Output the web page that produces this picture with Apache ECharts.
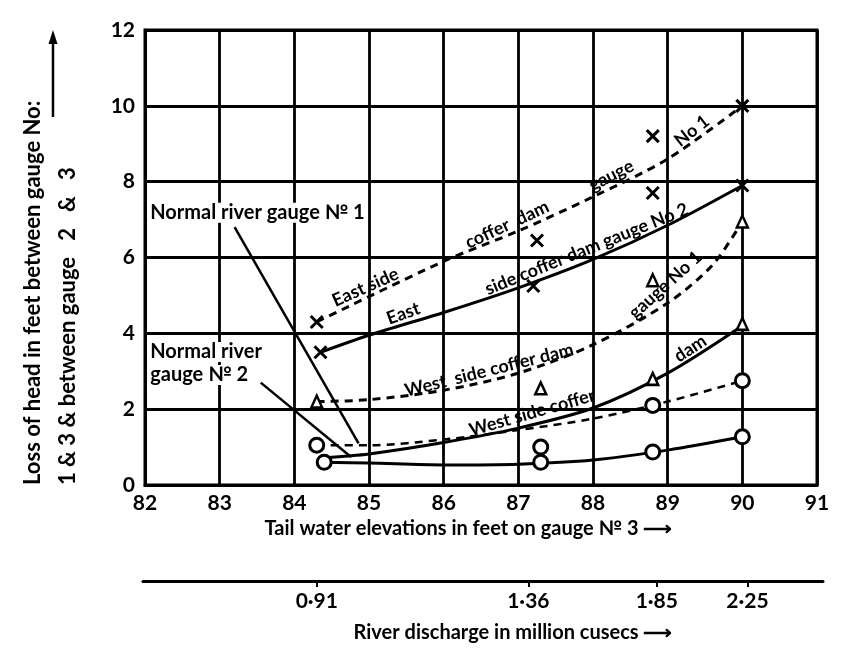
<!DOCTYPE html>
<html>
<head>
<meta charset="utf-8">
<script src="https://cdn.jsdelivr.net/npm/echarts@6/dist/echarts.min.js"></script>
<style>
html,body{margin:0;padding:0;background:#fff;}
#chart{width:842px;height:654px;}
</style>
</head>
<body>
<div id="chart"></div>
<script>
// ---- axes ----
const tailWaterMin = 82, tailWaterMax = 91, tailWaterStep = 1;
const headMin = 0, headMax = 12, headStep = 2;
const dischargeAt = [84.3, 87.1, 88.8, 90.0];
const dischargeLabels = ['0·91', '1·36', '1·85', '2·25'];

// ---- observed points ----
const eastNo1Points = [[84.3, 4.3], [87.25, 6.45], [88.8, 9.2], [90.0, 10.0]];
const eastNo2Points = [[84.35, 3.5], [87.2, 5.25], [88.8, 7.7], [90.0, 7.9]];
const westNo1Points = [[84.3, 2.2], [87.3, 2.55], [88.8, 5.4], [90.0, 6.95]];
const westNo2Points = [[88.8, 2.8], [90.0, 4.25]];
const normalNo1Points = [[84.3, 1.05], [87.3, 1.0], [88.8, 2.1], [90.0, 2.75]];
const normalNo2Points = [[84.4, 0.6], [87.3, 0.6], [88.8, 0.87], [90.0, 1.27]];

// ---- drawn curves ----
const eastNo1Curve = [[84.3, 4.3], [86, 5.9], [87, 6.7], [88, 7.6], [89, 8.6], [90, 10.0]];
const eastNo2Curve = [[84.35, 3.5], [85, 3.95], [86, 4.55], [87, 5.2], [88, 5.95], [89, 6.85], [90, 7.9]];
const westNo1Curve = [[84.3, 2.2], [85, 2.25], [86, 2.5], [87, 2.95], [88, 3.7], [89, 4.8], [89.6, 5.8], [90, 6.95]];
const westNo2Curve = [[84.4, 0.72], [85, 0.82], [86, 1.12], [87, 1.5], [88, 2.03], [89, 2.95], [90, 4.2]];
const normalNo1Curve = [[84.3, 1.05], [85, 1.05], [86, 1.2], [87, 1.45], [88, 1.75], [89, 2.2], [90, 2.75]];
const normalNo2Curve = [[84.4, 0.6], [85, 0.58], [86, 0.53], [87, 0.55], [88, 0.66], [89, 0.92], [90, 1.27]];

// ---- label pointers ----
const normalNo1Pointer = [[83.2, 6.8], [84.86, 1.1]];
const normalNo2Pointer = [[83.55, 2.7], [84.76, 0.74]];

// ---- annotation texts ----
const annotationTexts = ['East side', 'coffer  dam', 'gauge', 'No 1',
  'East', 'side coffer dam gauge No 2',
  'West  side coffer dam', 'gauge No 1',
  'West side coffer', 'dam',
  'Normal river gauge № 1', 'Normal river', 'gauge № 2'];
const annotationAnchors = [[85.0, 5.0], [86.9, 6.65], [88.3, 7.95], [89.4, 9.15],
  [85.5, 4.3], [87.96, 6.0],
  [86.64, 2.8], [89.05, 5.1],
  [87.22, 1.68], [89.37, 3.4],
  [82.07, 7.18], [82.07, 3.51], [82.07, 2.9]];
const annotationAngles = [24, 25, 27, 38, 20, 22, 14, 42, 16, 33, 0, 0, 0];

const FONT = 'Lato';
const BLACK = '#000';

const crossSymbol = 'path://M0 0L10 10M10 0L0 10';

function curve(data, dashed, width) {
  return {
    type: 'line', data: data, smooth: 0.3, showSymbol: false, symbol: 'none',
    xAxisIndex: 0, yAxisIndex: 0, silent: true, z: 3,
    lineStyle: { color: BLACK, width: width || 3, type: dashed ? [8, 6] : 'solid', opacity: 1 }
  };
}
function points(data, kind) {
  const s = { type: 'scatter', data: data, xAxisIndex: 0, yAxisIndex: 0, z: 5, silent: true };
  if (kind === 'x') {
    s.symbol = crossSymbol; s.symbolSize = 12;
    s.itemStyle = { color: 'none', borderColor: BLACK, borderWidth: 3, opacity: 1 };
  } else if (kind === 't') {
    s.symbol = 'triangle'; s.symbolSize = [11, 12];
    s.itemStyle = { color: '#fff', borderColor: BLACK, borderWidth: 2.5, opacity: 1 };
  } else {
    s.symbol = 'circle'; s.symbolSize = 14;
    s.itemStyle = { color: '#fff', borderColor: BLACK, borderWidth: 3, opacity: 1 };
  }
  return s;
}
function pointer(data) {
  return { type: 'line', data: data, showSymbol: false, symbol: 'none', silent: true, z: 2,
    lineStyle: { color: BLACK, width: 2.5 } };
}

const chart = echarts.init(document.getElementById('chart'), null, { renderer: 'canvas' });

const labelFont = { color: BLACK, fontFamily: FONT, fontWeight: 'bold', fontSize: 21 };

const option = {
  backgroundColor: '#fff',
  animation: false,
  grid: [
    { left: 145, top: 30, width: 672, height: 455, show: true, borderColor: BLACK, borderWidth: 3, backgroundColor: 'transparent' },
    { left: 143, top: 580, width: 680, height: 1 }
  ],
  xAxis: [
    {
      type: 'value', gridIndex: 0, min: tailWaterMin, max: tailWaterMax, interval: tailWaterStep,
      axisLine: { show: true, lineStyle: { color: BLACK, width: 3 } },
      axisTick: { show: false },
      splitLine: { show: true, lineStyle: { color: BLACK, width: 2.8 } },
      axisLabel: Object.assign({ margin: 8 }, labelFont),
      name: 'Tail water elevations in feet on gauge № 3 ⟶',
      nameLocation: 'middle', nameGap: 34,
      nameTextStyle: { color: BLACK, fontFamily: FONT, fontWeight: 'bold', fontSize: 20, padding: [0, 25, 0, 0] }
    },
    {
      type: 'value', gridIndex: 1, min: tailWaterMin, max: tailWaterMax,
      axisLine: { show: true, onZero: false, lineStyle: { color: BLACK, width: 3 } },
      axisTick: { show: true, inside: false, length: 6, customValues: dischargeAt, lineStyle: { color: BLACK, width: 2 } },
      splitLine: { show: false },
      axisLabel: Object.assign({
        show: true, customValues: dischargeAt, margin: 10,
        formatter: function (v) {
          for (let i = 0; i < dischargeAt.length; i++) { if (Math.abs(dischargeAt[i] - v) < 1e-6) return dischargeLabels[i]; }
          return '';
        }
      }, labelFont),
      name: 'River discharge in million cusecs ⟶',
      nameLocation: 'middle', nameGap: 42,
      nameTextStyle: { color: BLACK, fontFamily: FONT, fontWeight: 'bold', fontSize: 20, padding: [0, 0, 0, 60] }
    }
  ],
  yAxis: [
    {
      type: 'value', gridIndex: 0, min: headMin, max: headMax, interval: headStep,
      axisLine: { show: true, lineStyle: { color: BLACK, width: 3 } },
      axisTick: { show: false },
      splitLine: { show: true, lineStyle: { color: BLACK, width: 2.8 } },
      axisLabel: Object.assign({ margin: 10 }, labelFont)
    },
    { type: 'value', gridIndex: 1, show: false, min: 0, max: 1 }
  ],
  series: [
    curve(eastNo1Curve, true),
    curve(eastNo2Curve, false),
    curve(westNo1Curve, true),
    curve(westNo2Curve, false),
    curve(normalNo1Curve, true, 2.5),
    curve(normalNo2Curve, false),
    pointer(normalNo1Pointer),
    pointer(normalNo2Pointer),
    points(eastNo1Points, 'x'),
    points(eastNo2Points, 'x'),
    points(westNo1Points, 't'),
    points(westNo2Points, 't'),
    points(normalNo1Points, 'o'),
    points(normalNo2Points, 'o')
  ]
};
chart.setOption(option);

// annotations placed through the axes' scales
const graphics = [];
for (let i = 0; i < annotationTexts.length; i++) {
  const p = chart.convertToPixel({ gridIndex: 0 }, annotationAnchors[i]);
  const left = annotationAngles[i] === 0;
  graphics.push({
    type: 'text', x: p[0], y: p[1], rotation: annotationAngles[i] * Math.PI / 180, z: 10,
    style: {
      text: annotationTexts[i], fill: BLACK, font: 'bold ' + (left ? 20 : 18) + 'px ' + FONT,
      align: left ? 'left' : 'center', verticalAlign: left ? 'middle' : 'bottom',
      backgroundColor: left ? '#fff' : 'rgba(255,255,255,0)'
    }
  });
}
// Y axis title (two lines, reading upward) with arrow
const yBottom = chart.convertToPixel({ gridIndex: 0 }, [tailWaterMin, headMin])[1];
graphics.push({
  type: 'text', x: 33, y: yBottom, rotation: Math.PI / 2,
  style: { text: 'Loss of head in feet between gauge No:', fill: BLACK, font: 'bold 22px ' + FONT, align: 'left', verticalAlign: 'middle' }
});
graphics.push({
  type: 'text', x: 68, y: yBottom, rotation: Math.PI / 2,
  style: { text: '1 & 3 & between gauge   2   &   3', fill: BLACK, font: 'bold 22px ' + FONT, align: 'left', verticalAlign: 'middle' }
});
graphics.push({ type: 'line', shape: { x1: 53, y1: 117, x2: 53, y2: 40 }, style: { stroke: BLACK, lineWidth: 2.5 } });
graphics.push({ type: 'polygon', shape: { points: [[53, 30], [48.5, 44], [57.5, 44]] }, style: { fill: BLACK } });
chart.setOption({ graphic: graphics });
</script>
</body>
</html>
